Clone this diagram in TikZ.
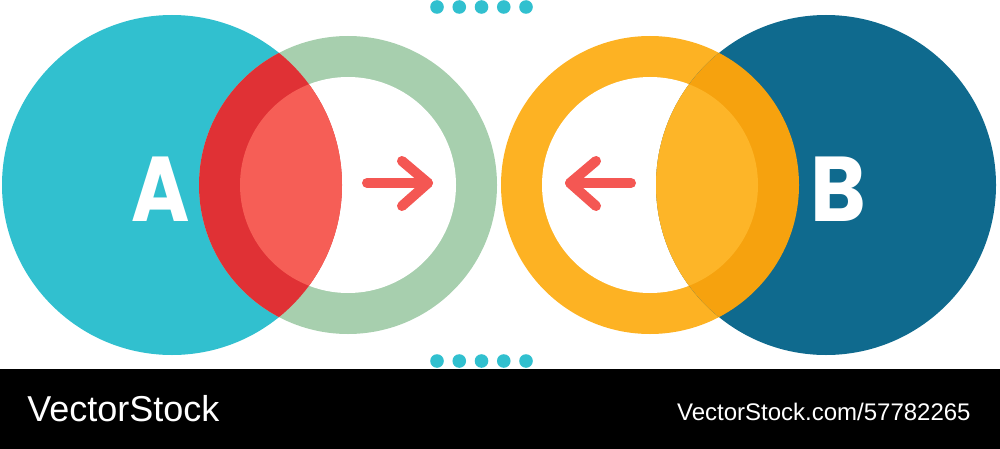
\documentclass[tikz,border=0pt]{standalone}
\usepackage{fontspec}
\setmainfont{Liberation Sans}
\newfontfamily\letterfont{Poppins}
\usepackage{tikz}

\definecolor{cteal}{HTML}{31C0CF}
\definecolor{cgreen}{HTML}{A7CFAE}
\definecolor{credD}{HTML}{E03135}
\definecolor{credL}{HTML}{F65E56}
\definecolor{corange}{HTML}{FDB223}
\definecolor{corangeD}{HTML}{F6A20E}
\definecolor{corangeL}{HTML}{FDB528}
\definecolor{cblue}{HTML}{0F6A8E}
\definecolor{carrow}{HTML}{F45753}

\def\rbig{85pt}
\def\rout{74.5pt}
\def\rin{54pt}

\tikzset{
    letter/.style={text=white, inner sep=0pt, font=\letterfont\bfseries\fontsize{46pt}{50pt}\selectfont},
    arrowline/.style={carrow, line width=5pt, line cap=round, line join=round},
    dot/.style={circle, fill=cteal, inner sep=0pt, minimum size=6.8pt},
    bandtext/.style={text=white, inner sep=0pt, anchor=base west}
}

\begin{document}
\begin{tikzpicture}[x=0.5pt, y=-0.5pt]
            \useasboundingbox (0,0) rectangle (1000,449);
            \coordinate (cA) at (172,185);
            \coordinate (ringL) at (348,185);
            \coordinate (ringR) at (650,185);
            \coordinate (cB) at (826,185);

            %left side
            \fill[cteal] (cA) circle[radius=\rbig];
            \fill[cgreen] (ringL) circle[radius=\rout];
            \fill[white] (ringL) circle[radius=\rin];
            \begin{scope}
                \clip (cA) circle[radius=\rbig];
                \fill[credD] (ringL) circle[radius=\rout];
                \fill[credL] (ringL) circle[radius=\rin];
            \end{scope}

            %right side
            \fill[corange] (ringR) circle[radius=\rout];
            \fill[white] (ringR) circle[radius=\rin];
            \fill[cblue] (cB) circle[radius=\rbig];
            \begin{scope}
                \clip (cB) circle[radius=\rbig];
                \fill[corangeD] (ringR) circle[radius=\rout];
                \fill[corangeL] (ringR) circle[radius=\rin];
            \end{scope}

            \node[letter] (A) at (161,189) {\scalebox{0.86}[1]{A}};
            \node[letter] (B) at (838,189) {\scalebox{0.92}[1]{B}};

            %arrows
            \coordinate (tipR) at (428,183);
            \coordinate (tipL) at (570,183);
            \draw[arrowline] (tipR) ++(-61,0) -- (tipR);
            \draw[arrowline] (tipR) ++(-26,-22) -- (tipR) -- ++(-26,23);
            \draw[arrowline] (tipL) ++(61,0) -- (tipL);
            \draw[arrowline] (tipL) ++(26,-22) -- (tipL) -- ++(26,23);

            %dots
            \foreach \i in {0,...,4} {
                \node[dot] (top\i) at (437+22.25*\i, 7) {};
                \node[dot] (bot\i) at (437+22.25*\i, 361) {};
            }

            %band
            \fill[black] (0,369) rectangle (1000,449);
            \node[bandtext, font=\fontsize{18pt}{21pt}\selectfont] (logo) at (27,421) {VectorStock};
            \node[bandtext, anchor=base east, font=\fontsize{12pt}{14pt}\selectfont] (ref) at (971,420) {VectorStock.com/57782265};
\end{tikzpicture}
\end{document}
